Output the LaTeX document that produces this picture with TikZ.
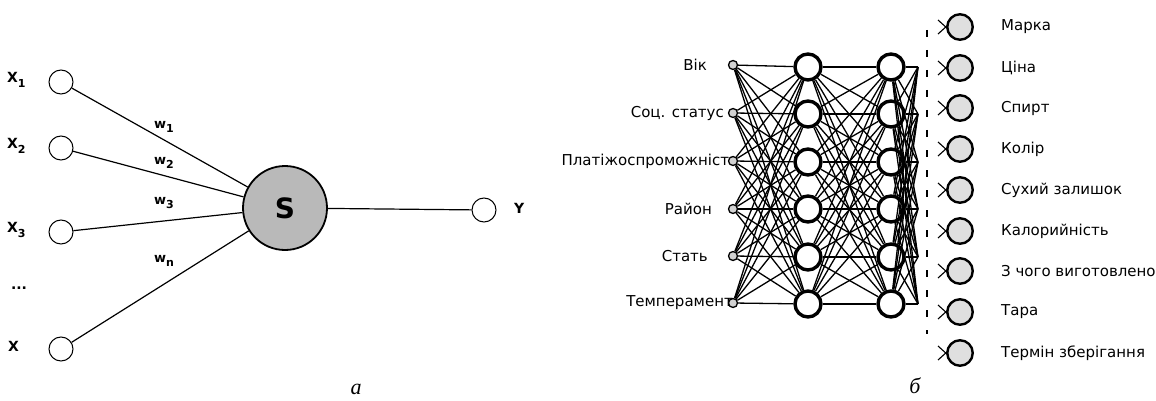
\documentclass[tikz,border=0pt]{standalone}
\usepackage{fontspec}
\newfontfamily\labfont{DejaVu Sans}
\newfontfamily\capfont{Liberation Serif}
\newcommand\lsub[1]{\raisebox{-0.55ex}{\fontsize{11}{11}\selectfont #1}}
\begin{document}
\begin{tikzpicture}[x=1pt,y=-1pt,
  inp/.style={circle,draw,minimum size=24pt,inner sep=0pt,line width=1pt,fill=white},
  sumnode/.style={circle,draw,minimum size=84pt,inner sep=0pt,line width=1.8pt,fill=gray!55},
  lconn/.style={line width=1.2pt},
  xl/.style={font=\labfont\bfseries\fontsize{14}{14}\selectfont,inner sep=0pt},
  wl/.style={font=\labfont\bfseries\fontsize{13}{13}\selectfont,inner sep=0pt,anchor=west},
  small/.style={circle,draw,minimum size=9pt,inner sep=0pt,line width=1.3pt,fill=gray!35},
  hid/.style={circle,draw,minimum size=26pt,inner sep=0pt,line width=3.4pt,fill=white},
  outn/.style={circle,draw,minimum size=25.5pt,inner sep=0pt,line width=2.4pt,fill=gray!25},
  rconn/.style={line width=1.3pt},
  rl/.style={font=\labfont\fontsize{15}{15}\selectfont,inner sep=0pt},
  capt/.style={font=\capfont\itshape\fontsize{22}{22}\selectfont,inner sep=0pt}
]
\useasboundingbox (0,0) rectangle (1156,401);

% ---------- (a) ----------
\foreach \n/\y in {1/82,2/148,3/232,4/349} \node[inp] (x\n) at (61,\y) {};
\node[sumnode] (S) at (285,208) {\labfont\bfseries\fontsize{28}{28}\selectfont S};
\node[inp] (Y) at (484,210) {};
\foreach \n in {1,...,4} \draw[lconn] (x\n) -- (S);
\draw[lconn] (S) -- (Y);
\node[xl,anchor=west] (lx1) at (7,80) {X\lsub{1}};
\node[xl,anchor=west] (lx2) at (7,146) {X\lsub{2}};
\node[xl,anchor=west] (lx3) at (7,230) {X\lsub{3}};
\node[xl] (ldots) at (19,288) {...};
\node[xl,anchor=west] (lx4) at (8,346) {X};
\node[xl,anchor=west] (ly) at (514,208) {Y};
\node[wl] (w1) at (154,127) {w\lsub{1}};
\node[wl] (w2) at (154,163) {w\lsub{2}};
\node[wl] (w3) at (154,203) {w\lsub{3}};
\node[wl] (wn) at (154,261) {w\lsub{n}};
\node[capt] (ca) at (356,389) {а};

% ---------- (б) ----------
\node[rl,anchor=east] (t1) at (707,65) {Вік};
\node[rl,anchor=east] (t2) at (724,113) {Соц. статус};
\node[rl,anchor=east] (t3) at (738,161) {Платіжоспроможність};
\node[rl,anchor=east] (t4) at (712,209) {Район};
\node[rl,anchor=east] (t5) at (708,256) {Стать};
\node[rl,anchor=east] (t6) at (733,303) {Темперамент};

\foreach \i/\y in {1/65,2/113,3/161,4/209,5/256,6/303} \node[small] (i\i) at (733,\y) {};
\foreach \i/\y in {1/67,2/114,3/162,4/209,5/257,6/304} {
  \node[hid] (h\i) at (808,\y) {};
  \node[hid] (g\i) at (891,\y) {};
  \coordinate (s\i) at (918,\y);
}
\foreach \i in {1,...,6} \foreach \j in {1,...,6} {
  \draw[rconn] (i\i) -- (h\j);
  \draw[rconn] (h\i) -- (g\j);
  \draw[rconn] (g\i) -- (s\j);
}
\coordinate (d1) at (927,30);
\coordinate (d2) at (927,334);
\draw[line width=1.4pt,dash pattern=on 7pt off 13pt] (d1) -- (d2);

\foreach \k/\y/\t in {1/27/Марка,2/68/Ціна,3/108/Спирт,4/149/Колір,5/190/Сухий залишок,6/231/Калорийність,7/271/З чого виготовлено,8/312/Тара,9/353/Термін зберігання} {
  \node[outn] (o\k) at (960,\y) {};
  \node[rl,anchor=west] (ol\k) at (1001,\y) {\t};
  \coordinate (ma\k) at (938,\y-7);
  \coordinate (mb\k) at (938,\y+7);
  \coordinate (mc\k) at (948,\y+2);
  \coordinate (md\k) at (948,\y-2);
  \draw[line width=1.1pt] (ma\k) -- (mc\k);
  \draw[line width=1.1pt] (mb\k) -- (md\k);
}
\node[capt] (cb) at (915,386) {б};
\end{tikzpicture}
\end{document}
